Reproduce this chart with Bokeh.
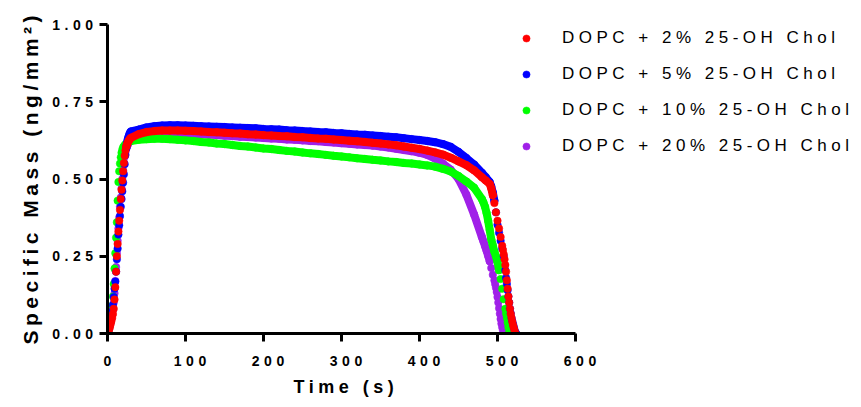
from bokeh.plotting import figure
from bokeh.models import (Range1d, FixedTicker, Legend, LegendItem,
                          InlineStyleSheet, Title)
from bokeh.embed import file_html
from bokeh.resources import INLINE

# ---------------- data ----------------
series_names = ["DOPC + 2% 25-OH Chol", "DOPC + 5% 25-OH Chol",
                "DOPC + 10% 25-OH Chol", "DOPC + 20% 25-OH Chol"]

t_rise = [0, 1, 2, 3, 4, 5, 6, 7, 8, 9, 10, 11, 12, 13, 14, 15, 16, 17, 18, 19,
          20, 21, 22, 23, 24, 25, 26, 27, 28, 29, 30]
t_plateau = [40, 50, 60, 70, 80, 90, 100, 110, 120, 130, 140, 150, 160, 170, 180,
             190, 200, 210, 220, 230, 240, 250, 260, 270, 280, 290, 300, 310, 320,
             330, 340, 350, 360, 370, 380, 390, 400, 410, 420, 430, 440, 450, 460,
             470, 480]

# 2 % 25-OH Chol (red)
rise_2 = [0, 0.005, 0.012, 0.02, 0.03, 0.04, 0.05, 0.063, 0.08, 0.11, 0.15, 0.2,
          0.25, 0.29, 0.33, 0.365, 0.4, 0.435, 0.465, 0.495, 0.525, 0.552, 0.575,
          0.592, 0.604, 0.612, 0.618, 0.623, 0.627, 0.63, 0.633]
plateau_2 = [0.645, 0.652, 0.655, 0.657, 0.657, 0.657, 0.656, 0.655, 0.654, 0.652,
             0.651, 0.65, 0.648, 0.647, 0.645, 0.644, 0.642, 0.641, 0.639, 0.638,
             0.636, 0.635, 0.633, 0.631, 0.63, 0.628, 0.626, 0.624, 0.622, 0.62,
             0.617, 0.615, 0.612, 0.609, 0.605, 0.601, 0.597, 0.592, 0.586, 0.579,
             0.569, 0.557, 0.545, 0.528, 0.506]
t_drop_2 = [485, 490, 492, 494, 496, 498, 500, 502, 504, 506, 507, 508, 509, 510,
            511, 512, 513, 514, 515, 516, 517, 518, 519, 520, 521, 522, 523]
drop_2 = [0.495, 0.484, 0.47, 0.448, 0.422, 0.392, 0.365, 0.34, 0.312, 0.284, 0.27,
          0.256, 0.24, 0.222, 0.2, 0.172, 0.145, 0.12, 0.1, 0.08, 0.063, 0.05,
          0.038, 0.027, 0.017, 0.008, 0.0]

# 5 % 25-OH Chol (blue)
rise_5 = [0, 0.012, 0.024, 0.035, 0.046, 0.057, 0.072, 0.092, 0.118, 0.145, 0.168,
          0.2, 0.24, 0.275, 0.32, 0.35, 0.38, 0.41, 0.435, 0.46, 0.488, 0.515,
          0.548, 0.578, 0.6, 0.616, 0.628, 0.637, 0.644, 0.65, 0.654]
plateau_5 = [0.66, 0.667, 0.671, 0.673, 0.674, 0.674, 0.673, 0.672, 0.671, 0.67,
             0.669, 0.668, 0.667, 0.666, 0.665, 0.664, 0.662, 0.661, 0.66, 0.658,
             0.657, 0.655, 0.654, 0.652, 0.651, 0.649, 0.648, 0.646, 0.644, 0.643,
             0.641, 0.639, 0.637, 0.635, 0.632, 0.629, 0.626, 0.623, 0.619, 0.613,
             0.604, 0.588, 0.568, 0.547, 0.52]
t_drop_5 = [485, 490, 492, 494, 496, 498, 500, 502, 504, 506, 508, 510, 511, 512,
            513, 514, 515, 516, 517, 518, 519, 520, 521, 522, 523, 524]
drop_5 = [0.506, 0.49, 0.476, 0.456, 0.43, 0.392, 0.352, 0.326, 0.3, 0.275, 0.25,
          0.205, 0.18, 0.16, 0.14, 0.12, 0.1, 0.08, 0.065, 0.05, 0.04, 0.03, 0.02,
          0.01, 0.003, 0.0]

# 10 % 25-OH Chol (green)
rise_10 = [0, 0.008, 0.018, 0.03, 0.045, 0.065, 0.09, 0.12, 0.16, 0.21, 0.26, 0.31,
           0.36, 0.43, 0.49, 0.525, 0.55, 0.57, 0.585, 0.595, 0.602, 0.606, 0.609,
           0.612, 0.614, 0.616, 0.618, 0.62, 0.621, 0.622, 0.623]
plateau_10 = [0.627, 0.629, 0.63, 0.63, 0.629, 0.627, 0.625, 0.623, 0.62, 0.618,
              0.615, 0.613, 0.61, 0.607, 0.605, 0.602, 0.599, 0.597, 0.594, 0.591,
              0.589, 0.586, 0.583, 0.581, 0.578, 0.575, 0.573, 0.57, 0.567, 0.565,
              0.562, 0.56, 0.557, 0.555, 0.552, 0.55, 0.547, 0.544, 0.54, 0.533,
              0.524, 0.51, 0.492, 0.472, 0.435]
t_drop_10 = [482, 484, 486, 488, 490, 492, 494, 496, 498, 500, 502, 504, 506, 508,
             510, 511, 512, 513, 514, 515]
drop_10 = [0.424, 0.41, 0.39, 0.365, 0.335, 0.305, 0.285, 0.265, 0.25, 0.232, 0.205,
           0.176, 0.145, 0.111, 0.08, 0.065, 0.05, 0.035, 0.02, 0.005]

# 20 % 25-OH Chol (purple)
rise_20 = [0, 0.006, 0.014, 0.024, 0.035, 0.047, 0.06, 0.078, 0.1, 0.13, 0.17,
           0.215, 0.26, 0.3, 0.34, 0.375, 0.41, 0.44, 0.47, 0.5, 0.528, 0.553, 0.572,
           0.587, 0.598, 0.606, 0.612, 0.617, 0.621, 0.624, 0.627]
plateau_20 = [0.638, 0.645, 0.648, 0.649, 0.649, 0.648, 0.647, 0.646, 0.645, 0.643,
              0.642, 0.64, 0.639, 0.637, 0.636, 0.634, 0.633, 0.631, 0.63, 0.628,
              0.627, 0.625, 0.623, 0.622, 0.62, 0.618, 0.616, 0.614, 0.612, 0.61,
              0.608, 0.605, 0.602, 0.598, 0.594, 0.59, 0.585, 0.578, 0.566, 0.55,
              0.53, 0.5, 0.45, 0.385, 0.312]
t_drop_20 = [482, 484, 486, 488, 490, 492, 494, 496, 497, 498, 499, 500, 501, 502,
             503, 504, 505, 506, 507, 508]
drop_20 = [0.298, 0.283, 0.268, 0.252, 0.234, 0.212, 0.19, 0.172, 0.16, 0.148,
           0.134, 0.118, 0.1, 0.082, 0.064, 0.047, 0.032, 0.02, 0.009, 0.0]

x_ticks = [0, 100, 200, 300, 400, 500, 600]
y_ticks = [0, 0.25, 0.5, 0.75, 1]
y_tick_labels = ["0.00", "0.25", "0.50", "0.75", "1.00"]
x_title = "Time (s)"
y_title = "Specific Mass (ng/mm\u00b2)"

# ---------------- layout / styles ----------------
colors = ["#FF0000", "#0000FF", "#00FF00", "#A020E8"]
band_end = [494, 496, 502, 490]   # where the dense band turns into single dots
FONT = "Liberation Sans"
W, H = 861, 407
LEFT, TOP, BOTTOM = 107, 24, 73
AXIS_W = 468                      # pixels covered by the x axis (0..600)
frame_w = W - LEFT
x_end = x_ticks[-1] * frame_w / AXIS_W   # frame reaches the right edge, axis stops at 600

series_t = [t_rise + t_plateau + t_drop_2, t_rise + t_plateau + t_drop_5,
            t_rise + t_plateau + t_drop_10, t_rise + t_plateau + t_drop_20]
series_v = [rise_2 + plateau_2 + drop_2, rise_5 + plateau_5 + drop_5,
            rise_10 + plateau_10 + drop_10, rise_20 + plateau_20 + drop_20]

p = figure(width=W, height=H, output_backend="svg", toolbar_location=None,
           x_range=Range1d(0, x_end), y_range=Range1d(0, 1),
           min_border_left=LEFT, min_border_right=0, min_border_top=TOP,
           min_border_bottom=BOTTOM)
p.stylesheets = [InlineStyleSheet(css=":host { letter-spacing: 4.5px; }")]
p.xgrid.visible = False
p.ygrid.visible = False
p.outline_line_color = None
p.background_fill_color = "white"
p.border_fill_color = "white"

renderers = {}
for idx in [3, 2, 1, 0]:
    t, v = series_t[idx], series_v[idx]
    bt = [a for a, b in zip(t, v) if 24 <= a <= band_end[idx]]
    bv = [b for a, b in zip(t, v) if 24 <= a <= band_end[idx]]
    p.line(bt, bv, line_color=colors[idx], line_width=8, line_cap="round",
           line_join="round")
    renderers[idx] = p.scatter(t, v, size=7.5, fill_color=colors[idx],
                               line_color=colors[idx], line_width=0.5)

for ax in (p.xaxis[0], p.yaxis[0]):
    ax.axis_line_width = 3
    ax.axis_line_color = "black"
    ax.major_tick_line_width = 3
    ax.major_tick_line_color = "black"
    ax.major_tick_out = 8
    ax.major_tick_in = 0
    ax.minor_tick_line_color = None
    ax.major_label_text_font = FONT
    ax.major_label_text_font_style = "bold"
    ax.major_label_text_font_size = "14px"
    ax.major_label_text_color = "black"

p.xaxis.bounds = (x_ticks[0], x_ticks[-1])
p.xaxis.ticker = FixedTicker(ticks=x_ticks)
p.yaxis.ticker = FixedTicker(ticks=y_ticks)
p.yaxis.major_label_overrides = {k: s for k, s in zip(y_ticks, y_tick_labels)}
p.xaxis.major_label_standoff = 14
p.yaxis.major_label_standoff = 20

# axis titles as left-aligned titles (so the letter spacing grows away from the start)
ytitle = Title(text=y_title, align="left", offset=-11, standoff=15,
               text_font=FONT, text_font_style="bold", text_font_size="21px",
               text_color="black")
p.add_layout(ytitle, "left")
xtitle = Title(text=x_title, align="left", vertical_align="top", offset=186,
               standoff=17, text_font=FONT, text_font_style="bold",
               text_font_size="18px", text_color="black")
p.add_layout(xtitle, "below")

legend = Legend(items=[LegendItem(label=series_names[i], renderers=[renderers[i]])
                       for i in range(4)],
                location=(410, 177), padding=0, margin=0, spacing=16,
                label_height=20, glyph_height=18, glyph_width=18,
                label_standoff=27, background_fill_alpha=0, border_line_alpha=0,
                label_text_font=FONT, label_text_font_size="17px",
                label_text_color="black")
p.add_layout(legend)

open("out.html", "w").write(file_html(p, INLINE))
